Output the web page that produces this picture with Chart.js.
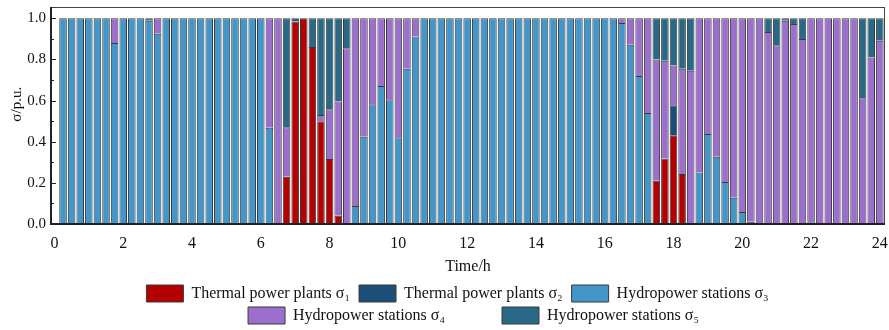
<!DOCTYPE html>
<html>
<head>
<meta charset="utf-8">
<script src="https://cdn.jsdelivr.net/npm/chart.js@4/dist/chart.umd.min.js"></script>
<style>
  html, body { margin: 0; padding: 0; background: #fff; }
  #wrap { width: 889px; height: 330px; }
</style>
</head>
<body>
<div id="wrap"><canvas id="chart" width="889" height="330"></canvas></div>
<script>
// ----------------------------------------------------------------------------
// Daten: 96 Zeitschritte (15 min), Anteile sigma1..sigma5 je Zeitschritt
// ----------------------------------------------------------------------------
const hours = [
  0.25, 0.5, 0.75, 1, 1.25, 1.5, 1.75, 2, 2.25, 2.5, 2.75, 3,
  3.25, 3.5, 3.75, 4, 4.25, 4.5, 4.75, 5, 5.25, 5.5, 5.75, 6,
  6.25, 6.5, 6.75, 7, 7.25, 7.5, 7.75, 8, 8.25, 8.5, 8.75, 9,
  9.25, 9.5, 9.75, 10, 10.25, 10.5, 10.75, 11, 11.25, 11.5, 11.75, 12,
  12.25, 12.5, 12.75, 13, 13.25, 13.5, 13.75, 14, 14.25, 14.5, 14.75, 15,
  15.25, 15.5, 15.75, 16, 16.25, 16.5, 16.75, 17, 17.25, 17.5, 17.75, 18,
  18.25, 18.5, 18.75, 19, 19.25, 19.5, 19.75, 20, 20.25, 20.5, 20.75, 21,
  21.25, 21.5, 21.75, 22, 22.25, 22.5, 22.75, 23, 23.25, 23.5, 23.75, 24
];

// Thermal power plants sigma1
const thermal1 = [
  0, 0, 0, 0, 0, 0, 0, 0, 0, 0, 0, 0,
  0, 0, 0, 0, 0, 0, 0, 0, 0, 0, 0, 0,
  0, 0, 0.23, 0.985, 1, 0.86, 0.5, 0.316, 0.04, 0, 0, 0,
  0, 0, 0, 0, 0, 0, 0, 0, 0, 0, 0, 0,
  0, 0, 0, 0, 0, 0, 0, 0, 0, 0, 0, 0,
  0, 0, 0, 0, 0, 0, 0, 0, 0, 0.21, 0.318, 0.431,
  0.243, 0, 0, 0, 0, 0, 0, 0, 0, 0, 0, 0,
  0, 0, 0, 0, 0, 0, 0, 0, 0, 0, 0, 0
];

// Thermal power plants sigma2
const thermal2 = [
  0, 0, 0, 0, 0, 0, 0, 0, 0, 0, 0, 0,
  0, 0, 0, 0, 0, 0, 0, 0, 0, 0, 0, 0,
  0, 0, 0, 0.015, 0, 0, 0, 0, 0, 0, 0, 0,
  0, 0, 0, 0, 0, 0, 0, 0, 0, 0, 0, 0,
  0, 0, 0, 0, 0, 0, 0, 0, 0, 0, 0, 0,
  0, 0, 0, 0, 0, 0, 0, 0, 0, 0, 0, 0.146,
  0, 0, 0, 0, 0, 0, 0, 0, 0, 0, 0, 0,
  0, 0, 0, 0, 0, 0, 0, 0, 0, 0, 0, 0
];

// Hydropower stations sigma3
const hydro3 = [
  1, 1, 1, 1, 1, 1, 0.88, 1, 1, 1, 0.988, 0.925,
  1, 1, 1, 1, 1, 1, 1, 1, 1, 1, 1, 1,
  0.468, 0, 0, 0, 0, 0, 0, 0, 0, 0, 0.088, 0.424,
  0.582, 0.671, 0.607, 0.422, 0.755, 0.911, 1, 1, 1, 1, 1, 1,
  1, 1, 1, 1, 1, 1, 1, 1, 1, 1, 1, 1,
  1, 1, 1, 1, 1, 0.977, 0.872, 0.72, 0.54, 0, 0, 0,
  0, 0, 0.25, 0.438, 0.327, 0.204, 0.128, 0.058, 0.011, 0, 0, 0,
  0, 0, 0, 0.013, 0, 0, 0, 0, 0, 0, 0, 0
];

// Hydropower stations sigma4
const hydro4 = [
  0, 0, 0, 0, 0, 0, 0.12, 0, 0, 0, 0, 0.075,
  0, 0, 0, 0, 0, 0, 0, 0, 0, 0, 0, 0,
  0.532, 1, 0.24, 0, 0, 0, 0.03, 0.242, 0.555, 0.854, 0.912, 0.576,
  0.418, 0.329, 0.393, 0.578, 0.245, 0.089, 0, 0, 0, 0, 0, 0,
  0, 0, 0, 0, 0, 0, 0, 0, 0, 0, 0, 0,
  0, 0, 0, 0, 0, 0.023, 0.128, 0.28, 0.46, 0.59, 0.476, 0.193,
  0.512, 0.745, 0.75, 0.562, 0.673, 0.796, 0.872, 0.942, 0.989, 1, 0.933, 0.869,
  0.988, 0.972, 0.9, 0.987, 1, 1, 1, 1, 1, 0.611, 0.81, 0.891
];

// Hydropower stations sigma5
const hydro5 = [
  0, 0, 0, 0, 0, 0, 0, 0, 0, 0, 0.012, 0,
  0, 0, 0, 0, 0, 0, 0, 0, 0, 0, 0, 0,
  0, 0, 0.53, 0, 0, 0.14, 0.47, 0.442, 0.405, 0.146, 0, 0,
  0, 0, 0, 0, 0, 0, 0, 0, 0, 0, 0, 0,
  0, 0, 0, 0, 0, 0, 0, 0, 0, 0, 0, 0,
  0, 0, 0, 0, 0, 0, 0, 0, 0, 0.2, 0.206, 0.23,
  0.245, 0.255, 0, 0, 0, 0, 0, 0, 0, 0, 0.067, 0.131,
  0.012, 0.028, 0.1, 0, 0, 0, 0, 0, 0, 0.389, 0.19, 0.109
];

const seriesLabels = [
  "Thermal power plants σ\u2081 ",
  "Thermal power plants σ\u2082 ",
  "Hydropower stations σ\u2083        ",
  "Hydropower stations σ\u2084             ",
  "Hydropower stations σ\u2085"
];
const seriesColors = ["#B40000", "#1B4F7A", "#4396CA", "#9C6FCF", "#2A6888"];
const seriesData = [thermal1, thermal2, hydro3, hydro4, hydro5];

const FONT = "'Liberation Serif', 'Times New Roman', serif";

// ----------------------------------------------------------------------------
// Hilfs-Plugins: Rahmen, Ticks nach innen, Legende verschieben
// ----------------------------------------------------------------------------
const framePlugin = {
  id: "frame",
  afterDatasetsDraw(chart) {
    const { ctx, chartArea: a, scales } = chart;
    ctx.save();
    // Ticks auf der y-Achse (nach innen)
    ctx.strokeStyle = "#222";
    ctx.lineWidth = 1;
    for (let i = 0; i <= 10; i++) {
      const y = Math.round(scales.y.getPixelForValue(i / 10)) + 0.5;
      const len = i % 2 === 0 ? 5 : 3;
      ctx.beginPath();
      ctx.moveTo(a.left, y);
      ctx.lineTo(a.left + len, y);
      ctx.stroke();
    }
    // Rahmen
    ctx.strokeStyle = "#444";
    ctx.lineWidth = 1;
    ctx.strokeRect(a.left + 0.5, a.top + 0.5, a.right - a.left - 1, a.bottom - a.top);
    ctx.strokeStyle = "#222";
    ctx.lineWidth = 2;
    ctx.beginPath();
    ctx.moveTo(a.left, a.top);
    ctx.lineTo(a.left, a.bottom);
    ctx.lineTo(a.right, a.bottom);
    ctx.stroke();
    ctx.restore();
  }
};

const shiftLegend = {
  id: "shiftLegend",
  afterUpdate(chart) {
    const lg = chart.legend;
    lg.left += 31;
    lg.right += 31;
    lg.top += 4;
    lg.bottom += 4;
  }
};

// ----------------------------------------------------------------------------
// Chart
// ----------------------------------------------------------------------------
const datasets = seriesData.map((arr, i) => ({
  label: seriesLabels[i],
  data: arr.map((v, j) => ({ x: hours[j], y: v })),
  backgroundColor: seriesColors[i],
  borderColor: "#3a3a3a",
  borderWidth: 1
}));

new Chart(document.getElementById("chart"), {
  type: "bar",
  data: { datasets },
  options: {
    responsive: false,
    animation: false,
    layout: { padding: { top: 7, right: 4, left: 0, bottom: 0 } },
    datasets: { bar: { barPercentage: 0.88, categoryPercentage: 1 } },
    scales: {
      x: {
        type: "linear",
        stacked: true,
        offset: false,
        min: -0.1,
        max: 24.15,
        grid: { display: false, drawTicks: false, tickLength: 0 },
        border: { display: false },
        ticks: {
          stepSize: 2,
          includeBounds: false,
          maxRotation: 0,
          padding: 10,
          color: "#111",
          font: { family: FONT, size: 16 }
        },
        title: {
          display: true,
          text: "Time/h",
          color: "#111",
          padding: { top: 0, bottom: 0 },
          font: { family: FONT, size: 16 }
        },
        afterFit(s) {
          s.height = 52;
          s.paddingLeft = 0;
          s.paddingRight = 0;
        }
      },
      y: {
        stacked: true,
        min: 0,
        max: 1.055,
        grid: { display: false, drawTicks: false, tickLength: 0 },
        border: { display: false },
        ticks: {
          stepSize: 0.2,
          includeBounds: false,
          padding: 5,
          color: "#111",
          font: { family: FONT, size: 15 },
          callback: v => v.toFixed(1)
        },
        title: {
          display: true,
          text: "      σ/p.u.",
          color: "#111",
          padding: { top: 8, bottom: 0 },
          font: { family: FONT, size: 15 }
        },
        afterFit(s) {
          s.width = 51;
          s.paddingTop = 0;
          s.paddingBottom = 0;
        }
      }
    },
    plugins: {
      legend: {
        position: "bottom",
        labels: {
          boxWidth: 37,
          boxHeight: 17,
          padding: 5,
          color: "#111",
          font: { family: FONT, size: 16 }
        }
      },
      tooltip: { enabled: false }
    }
  },
  plugins: [framePlugin, shiftLegend]
});
</script>
</body>
</html>
